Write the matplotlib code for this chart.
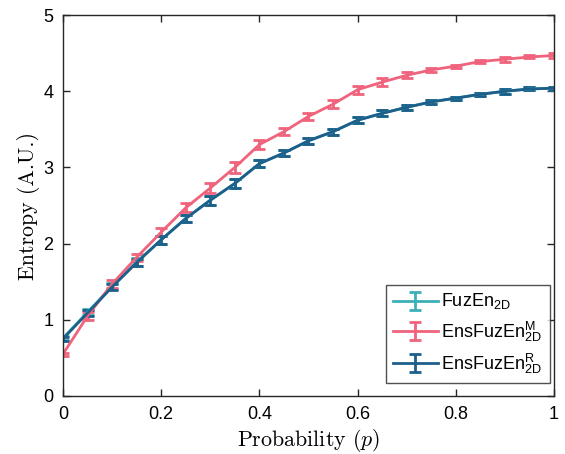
import matplotlib
matplotlib.use("Agg")
import matplotlib.pyplot as plt
import numpy as np

p = [0.0, 0.05, 0.1, 0.15, 0.2, 0.25, 0.3, 0.35, 0.4, 0.45, 0.5,
     0.55, 0.6, 0.65, 0.7, 0.75, 0.8, 0.85, 0.9, 0.95, 1.0]

fuzen = [0.76, 1.10, 1.44, 1.76, 2.05, 2.33, 2.57, 2.79, 3.05, 3.19, 3.35,
         3.47, 3.62, 3.71, 3.79, 3.86, 3.91, 3.96, 4.00, 4.03, 4.04]
fuzen_err = [0.03, 0.04, 0.04, 0.05, 0.05, 0.05, 0.06, 0.06, 0.05, 0.04, 0.04,
             0.04, 0.04, 0.04, 0.03, 0.03, 0.02, 0.02, 0.03, 0.02, 0.02]

ens_m = [0.55, 1.05, 1.47, 1.82, 2.15, 2.47, 2.73, 3.00, 3.30, 3.47, 3.67,
         3.83, 4.02, 4.12, 4.21, 4.28, 4.33, 4.39, 4.42, 4.45, 4.47]
ens_m_err = [0.02, 0.05, 0.05, 0.05, 0.05, 0.06, 0.06, 0.07, 0.06, 0.05, 0.05,
             0.05, 0.05, 0.05, 0.04, 0.03, 0.02, 0.02, 0.03, 0.02, 0.03]

ens_r = [0.75, 1.09, 1.43, 1.75, 2.05, 2.33, 2.57, 2.79, 3.05, 3.19, 3.35,
         3.47, 3.62, 3.71, 3.79, 3.86, 3.91, 3.96, 4.00, 4.03, 4.04]
ens_r_err = [0.03, 0.04, 0.04, 0.05, 0.05, 0.05, 0.06, 0.06, 0.05, 0.04, 0.04,
             0.04, 0.04, 0.04, 0.03, 0.03, 0.02, 0.02, 0.03, 0.02, 0.02]

labels = [r'FuzEn$_{\mathregular{2D}}$',
          r'EnsFuzEn$^{\mathregular{M}}_{\mathregular{2D}}$',
          r'EnsFuzEn$^{\mathregular{R}}_{\mathregular{2D}}$']
colors = ['#3CB0B8', '#F0637C', '#1D5F8A']

xticks = [0, 0.2, 0.4, 0.6, 0.8, 1]
xticklabels = ['0', '0.2', '0.4', '0.6', '0.8', '1']
yticks = [0, 1, 2, 3, 4, 5]
yticklabels = ['0', '1', '2', '3', '4', '5']

plt.rcParams['font.family'] = ['Liberation Sans', 'DejaVu Sans']
plt.rcParams['mathtext.fontset'] = 'cm'

fig = plt.figure(figsize=(5.65, 4.54), dpi=100)
ax = fig.add_axes([0.1115, 0.1278, 0.869, 0.839])

for y, e, c, lab in zip([fuzen, ens_m, ens_r], [fuzen_err, ens_m_err, ens_r_err], colors, labels):
    ax.errorbar(p, y, yerr=e, color=c, lw=2, elinewidth=2, capsize=4,
                capthick=2, label=lab)

ax.set_xlim(0, 1)
ax.set_ylim(0, 5)
ax.set_xticks(xticks)
ax.set_xticklabels(xticklabels)
ax.set_yticks(yticks)
ax.set_yticklabels(yticklabels)
ax.tick_params(direction='in', top=True, right=True, labelsize=13, length=5,
               width=1, color='#262626', pad=7)
for s in ax.spines.values():
    s.set_color('#262626')
    s.set_linewidth(1)

ax.set_xlabel(r'Probability ($p$)', fontsize=15.8, family='cmr10', labelpad=3)
ax.set_ylabel('Entropy (A.U.)', fontsize=15.8, family='cmr10', labelpad=2)

leg = ax.legend(loc='lower right', bbox_to_anchor=(0.992, 0.034),
                borderaxespad=0, fontsize=13, frameon=True, fancybox=False,
                edgecolor='#262626', handlelength=2.5, handletextpad=0.2,
                borderpad=0.4, labelspacing=0.4)
leg.get_frame().set_linewidth(1)

fig.savefig('out.png', dpi=100)
